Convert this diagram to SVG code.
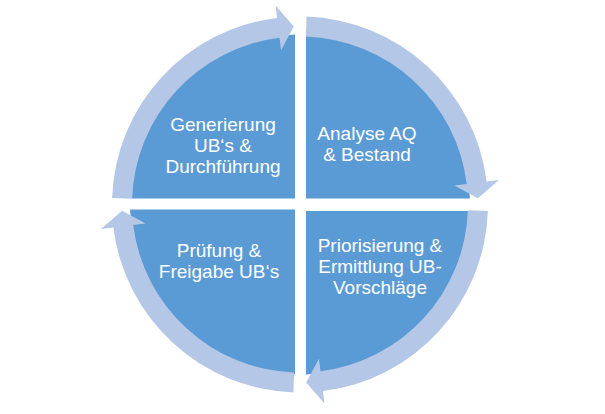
<svg xmlns="http://www.w3.org/2000/svg" width="605" height="414" viewBox="0 0 605 414">
<style>
.q{fill:#5B9BD5}
.a{fill:#B4C7E7}
.t{fill:#FFFFFF;font-family:"Liberation Sans",Arial,sans-serif;font-size:19px;text-anchor:middle}
</style>
<rect width="605" height="414" fill="#FFFFFF"/>
<g id="q1">
<path class="q" d="M295,198.5 L295,34.57 A170,170 0 0 0 130.11,198.5 Z"/>
<text class="t" x="223" y="131">Generierung</text>
<text class="t" x="223" y="152">UB‘s &amp;</text>
<text class="t" x="223" y="173">Durchführung</text>
</g>
<g id="q2">
<path class="q" d="M306,198.5 L306,34.61 A170,170 0 0 1 469.89,198.5 Z"/>
<text class="t" x="367" y="140">Analyse AQ</text>
<text class="t" x="367" y="161">&amp; Bestand</text>
</g>
<g id="q3">
<path class="q" d="M306,211 L469.88,211 A170,170 0 0 1 306,374.39 Z"/>
<text class="t" x="380" y="252">Priorisierung &amp;</text>
<text class="t" x="380" y="273">Ermittlung UB-</text>
<text class="t" x="380" y="294">Vorschläge</text>
</g>
<g id="q4">
<path class="q" d="M295,209.5 L295,374.43 A170,170 0 0 1 130.07,209.5 Z"/>
<text class="t" x="219" y="257">Prüfung &amp;</text>
<text class="t" x="219" y="278">Freigabe UB‘s</text>
</g>
<g id="connectors">
<path class="a" d="M112.11,197.94 A188,188 0 0 1 277.09,17.90 L275.57,5.49 L293.79,26.61 L281.05,50.16 L279.53,37.75 A168,168 0 0 0 132.10,198.64 Z"/>
<path class="a" d="M306.56,16.61 A188,188 0 0 1 486.60,181.59 L499.01,180.07 L477.89,198.29 L454.34,185.55 L466.75,184.03 A168,168 0 0 0 305.86,36.60 Z"/>
<path class="a" d="M487.89,211.06 A188,188 0 0 1 322.91,391.10 L324.43,403.51 L306.21,382.39 L318.95,358.84 L320.47,371.25 A168,168 0 0 0 467.90,210.36 Z"/>
<path class="a" d="M293.44,392.39 A188,188 0 0 1 113.40,227.41 L100.99,228.93 L122.11,210.71 L145.66,223.45 L133.25,224.97 A168,168 0 0 0 294.14,372.40 Z"/>
</g>
</svg>
